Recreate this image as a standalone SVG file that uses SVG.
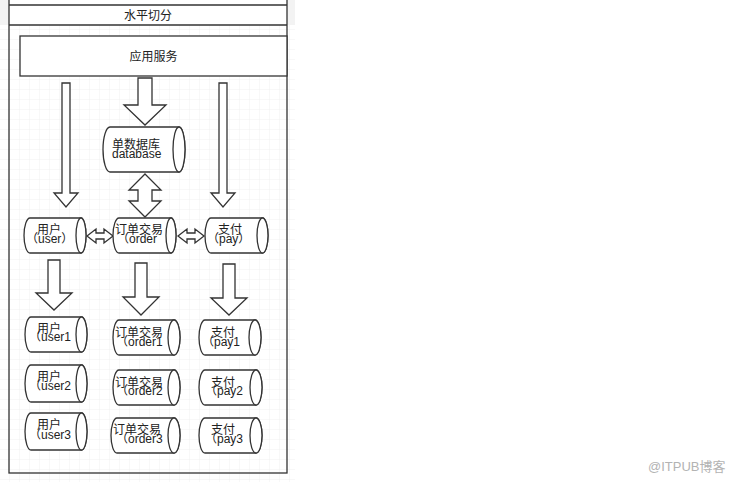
<svg xmlns="http://www.w3.org/2000/svg" width="738" height="482" viewBox="0 0 738 482">
<style>
  .ln{fill:#fff;stroke:#333;stroke-width:1.3;stroke-linejoin:miter}
  .box{fill:none;stroke:#333;stroke-width:1.3}
  .t{font-family:"Liberation Sans","Noto Sans CJK SC",sans-serif;font-size:12px;fill:#222}
  .wm{font-family:"Liberation Sans","Noto Sans CJK SC",sans-serif;font-size:13px;fill:#b3b3b3}
</style>
<defs>
  <pattern id="grid" width="10" height="10" patternUnits="userSpaceOnUse">
    <path d="M10 0 V10 M0 10 H10" fill="none" stroke="#f0f0f0" stroke-width="1"/>
  </pattern>
</defs>
<rect x="0" y="0" width="738" height="482" fill="#fff"/>
<rect x="0" y="0" width="295" height="482" fill="url(#grid)"/>
<rect x="0" y="0" width="295" height="25" fill="#f3f3f3"/>

<g id="swimlane">
  <rect x="9" y="0" width="278" height="25" fill="#fff"/>
  <rect class="box" x="9" y="-20" width="278" height="493"/>
  <line class="box" x1="9" y1="5" x2="287" y2="5"/>
  <line class="box" x1="9" y1="25" x2="287" y2="25"/>
  <text class="t" x="148" y="20" text-anchor="middle">水平切分</text>
</g>

<g id="app">
  <rect class="ln" x="20" y="36" width="267" height="40"/>
  <text class="t" x="153.5" y="61" text-anchor="middle">应用服务</text>
</g>

<g id="connectors">
  <polygon class="ln" points="62,83 70,83 70,193 78,193 66,207 54,193 62,193"/>
  <polygon class="ln" points="219,83 227,83 227,193 235,193 223,207 211,193 219,193"/>
  <polygon class="ln" points="138,78 152,78 152,105 166,105 145,125 124,105 138,105"/>
  <polygon class="ln" points="145,174 161,190 152,190 152,201 161,201 145,217 129,201 138,201 138,190 129,190"/>
  <polygon class="ln" points="87,236 96,229 96,233 104,233 104,229 113,236 104,243 104,239 96,239 96,243"/>
  <polygon class="ln" points="178,236 187,229 187,233 195,233 195,229 204,236 195,243 195,239 187,239 187,243"/>
  <polygon class="ln" points="48,260 60,260 60,293 72,293 54,310 36,293 48,293"/>
  <polygon class="ln" points="135,263 147,263 147,297 159,297 141,315 123,297 135,297"/>
  <polygon class="ln" points="223,264 235,264 235,298 247,298 229,315 211,298 223,298"/>
</g>

<g id="db">
  <path class="ln" d="M110,127 L179,127 A6,22.5 0 0 1 179,172 L110,172 A7,22.5 0 0 1 110,127 Z"/>
  <ellipse class="ln" cx="179" cy="149.5" rx="6" ry="22.5"/>
  <text class="t" x="112" y="149">单数据库</text>
  <text class="t" x="112" y="158">database</text>
</g>

<g id="user">
  <path class="ln" d="M30,218 L81,218 A5,17.5 0 0 1 81,253 L30,253 A6,17.5 0 0 1 30,218 Z"/>
  <ellipse class="ln" cx="81" cy="235.5" rx="5" ry="17.5"/>
  <text class="t" x="37" y="234">用户</text>
  <text class="t" x="26" y="243">（user）</text>
</g>
<g id="order">
  <path class="ln" d="M119,218 L171,218 A5,17.5 0 0 1 171,253 L119,253 A6,17.5 0 0 1 119,218 Z"/>
  <ellipse class="ln" cx="171" cy="235.5" rx="5" ry="17.5"/>
  <text class="t" x="115" y="234">订单交易</text>
  <text class="t" x="117" y="243">（order</text>
</g>
<g id="pay">
  <path class="ln" d="M211,218 L262.5,218 A5.5,17.5 0 0 1 262.5,253 L211,253 A6,17.5 0 0 1 211,218 Z"/>
  <ellipse class="ln" cx="262.5" cy="235.5" rx="5.5" ry="17.5"/>
  <text class="t" x="218" y="234">支付</text>
  <text class="t" x="207" y="243">（pay）</text>
</g>

<g id="user1">
  <path class="ln" d="M31,317 L81.5,317 A5.5,17.5 0 0 1 81.5,352 L31,352 A6,17.5 0 0 1 31,317 Z"/>
  <ellipse class="ln" cx="81.5" cy="334.5" rx="5.5" ry="17.5"/>
  <text class="t" x="37" y="333">用户</text>
  <text class="t" x="29" y="341">（user1</text>
</g>
<g id="order1">
  <path class="ln" d="M119,320 L174,320 A6,17.5 0 0 1 174,355 L119,355 A6,17.5 0 0 1 119,320 Z"/>
  <ellipse class="ln" cx="174" cy="337.5" rx="6" ry="17.5"/>
  <text class="t" x="115" y="337">订单交易</text>
  <text class="t" x="116" y="346">（order1</text>
</g>
<g id="pay1">
  <path class="ln" d="M205,320 L255,320 A6,17.5 0 0 1 255,355 L205,355 A6,17.5 0 0 1 205,320 Z"/>
  <ellipse class="ln" cx="255" cy="337.5" rx="6" ry="17.5"/>
  <text class="t" x="211" y="337">支付</text>
  <text class="t" x="202" y="346">（pay1</text>
</g>

<g id="user2">
  <path class="ln" d="M31,365 L81.5,365 A5.5,18.5 0 0 1 81.5,402 L31,402 A6,18.5 0 0 1 31,365 Z"/>
  <ellipse class="ln" cx="81.5" cy="383.5" rx="5.5" ry="18.5"/>
  <text class="t" x="37" y="381">用户</text>
  <text class="t" x="29" y="390">（user2</text>
</g>
<g id="order2">
  <path class="ln" d="M119,370 L174,370 A6,17.5 0 0 1 174,405 L119,405 A6,17.5 0 0 1 119,370 Z"/>
  <ellipse class="ln" cx="174" cy="387.5" rx="6" ry="17.5"/>
  <text class="t" x="115" y="387">订单交易</text>
  <text class="t" x="116" y="395">（order2</text>
</g>
<g id="pay2">
  <path class="ln" d="M205,370 L256,370 A6,17.5 0 0 1 256,405 L205,405 A6,17.5 0 0 1 205,370 Z"/>
  <ellipse class="ln" cx="256" cy="387.5" rx="6" ry="17.5"/>
  <text class="t" x="211" y="387">支付</text>
  <text class="t" x="205" y="395">（pay2</text>
</g>

<g id="user3">
  <path class="ln" d="M31,413 L81.5,413 A5.5,18.5 0 0 1 81.5,450 L31,450 A6,18.5 0 0 1 31,413 Z"/>
  <ellipse class="ln" cx="81.5" cy="431.5" rx="5.5" ry="18.5"/>
  <text class="t" x="37" y="429">用户</text>
  <text class="t" x="29" y="439">（user3</text>
</g>
<g id="order3">
  <path class="ln" d="M117,418 L174,418 A6,17.5 0 0 1 174,453 L117,453 A6,17.5 0 0 1 117,418 Z"/>
  <ellipse class="ln" cx="174" cy="435.5" rx="6" ry="17.5"/>
  <text class="t" x="113" y="434">订单交易</text>
  <text class="t" x="116" y="443">（order3</text>
</g>
<g id="pay3">
  <path class="ln" d="M205,418 L256,418 A6,17.5 0 0 1 256,453 L205,453 A6,17.5 0 0 1 205,418 Z"/>
  <ellipse class="ln" cx="256" cy="435.5" rx="6" ry="17.5"/>
  <text class="t" x="211" y="434">支付</text>
  <text class="t" x="205" y="443">（pay3</text>
</g>

<text class="wm" x="648" y="471">@ITPUB博客</text>
</svg>
